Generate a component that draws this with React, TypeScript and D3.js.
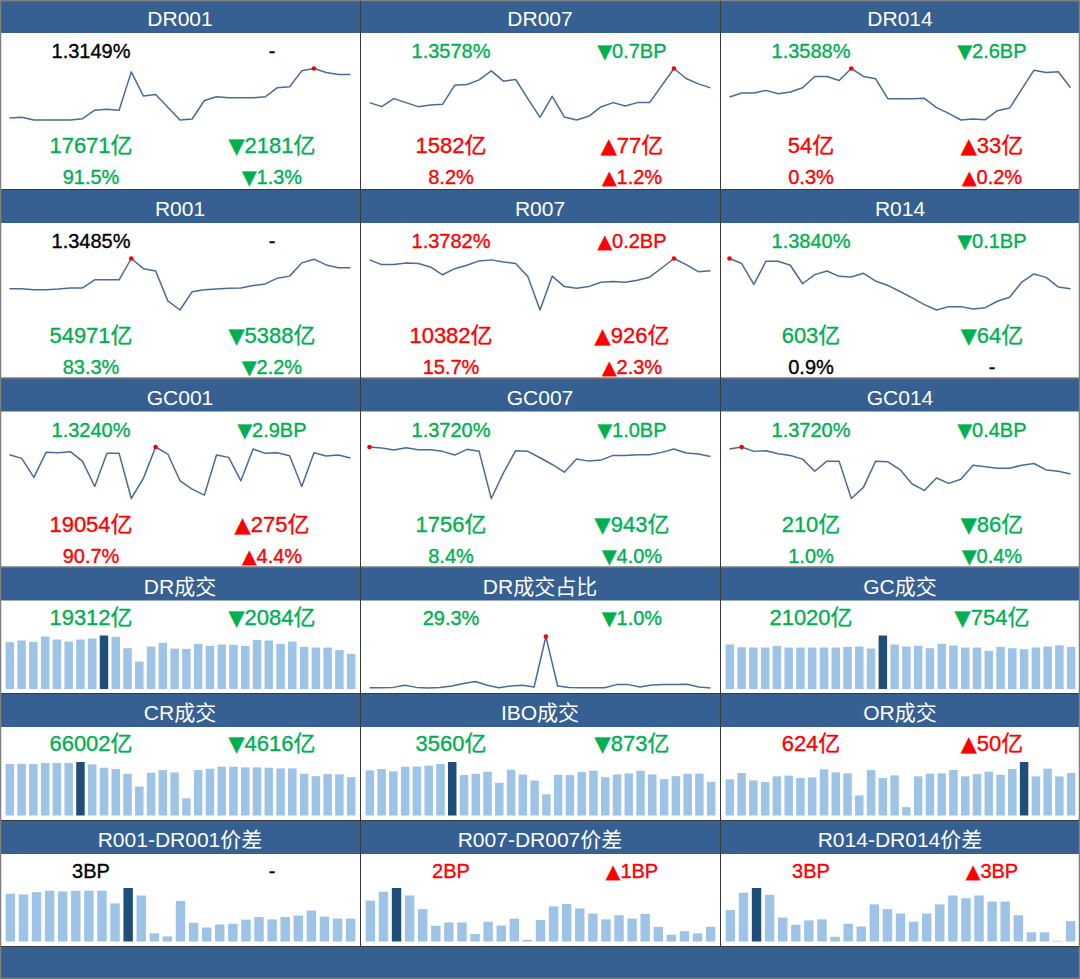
import React from "react";
import * as d3 from "d3";

// ---------- Rate panels (rows 1-3) ----------
const rateNames = ["DR001", "DR007", "DR014", "R001", "R007", "R014", "GC001", "GC007", "GC014"];

const dr001 = [1.2633, 1.2641, 1.2609, 1.2609, 1.2609, 1.2609, 1.2625, 1.2725, 1.2737, 1.2725, 1.3181, 1.2893, 1.2913, 1.2761, 1.2609, 1.2621, 1.2841, 1.2885, 1.2873, 1.2873, 1.2873, 1.2885, 1.2993, 1.3005, 1.3193, 1.3221, 1.3173, 1.3149, 1.3149];
const dr007 = [1.3321, 1.3251, 1.3391, 1.3321, 1.3251, 1.3281, 1.3292, 1.3625, 1.3636, 1.3718, 1.3875, 1.3695, 1.3724, 1.3391, 1.3065, 1.3432, 1.3071, 1.3018, 1.3082, 1.3246, 1.3321, 1.3263, 1.3321, 1.3321, 1.3619, 1.3916, 1.3741, 1.3648, 1.3578];
const dr014 = [1.3436, 1.3501, 1.3501, 1.3545, 1.349, 1.3518, 1.3588, 1.3772, 1.3772, 1.3707, 1.3902, 1.3772, 1.3734, 1.3409, 1.3409, 1.3409, 1.3415, 1.3263, 1.3171, 1.3062, 1.3079, 1.3068, 1.3214, 1.3257, 1.3566, 1.3875, 1.3837, 1.3848, 1.3588];
const r001 = [1.3237, 1.3237, 1.3225, 1.3225, 1.3233, 1.3245, 1.3245, 1.3341, 1.3341, 1.3341, 1.3593, 1.3473, 1.3445, 1.3093, 1.2985, 1.3201, 1.3225, 1.3233, 1.3241, 1.3245, 1.3273, 1.3293, 1.3361, 1.3385, 1.3541, 1.3585, 1.3517, 1.3485, 1.3485];
const r007 = [1.3995, 1.3902, 1.3902, 1.3935, 1.3922, 1.3855, 1.3702, 1.3822, 1.3889, 1.3975, 1.3995, 1.3955, 1.3922, 1.3669, 1.3009, 1.3675, 1.3469, 1.3435, 1.3469, 1.3555, 1.3569, 1.3555, 1.3595, 1.3655, 1.3835, 1.4022, 1.3902, 1.3762, 1.3782];
const r014 = [1.402, 1.399, 1.3866, 1.4004, 1.4004, 1.398, 1.387, 1.3924, 1.3946, 1.3914, 1.391, 1.3932, 1.3886, 1.386, 1.3824, 1.3786, 1.3746, 1.3714, 1.3734, 1.3734, 1.372, 1.3728, 1.3766, 1.379, 1.388, 1.3928, 1.3908, 1.385, 1.384];
const gc001 = [1.3562, 1.3208, 1.1372, 1.3787, 1.3755, 1.3852, 1.2918, 1.0503, 1.3691, 1.3691, 0.9344, 1.1308, 1.4303, 1.3626, 1.105, 1.0245, 0.9666, 1.353, 1.3304, 1.105, 1.4109, 1.3691, 1.3755, 1.3465, 1.0503, 1.3755, 1.3433, 1.353, 1.324];
const gc007 = [1.412, 1.4077, 1.3992, 1.4092, 1.4006, 1.4006, 1.3935, 1.3777, 1.402, 1.3935, 1.1932, 1.3019, 1.3963, 1.3935, 1.3663, 1.3377, 1.3048, 1.3606, 1.352, 1.3563, 1.3763, 1.3763, 1.3792, 1.3792, 1.3892, 1.4035, 1.3863, 1.382, 1.372];
const gc014 = [1.409, 1.412, 1.4055, 1.4065, 1.402, 1.3995, 1.394, 1.376, 1.391, 1.391, 1.3355, 1.352, 1.391, 1.39, 1.3785, 1.357, 1.3475, 1.366, 1.358, 1.364, 1.385, 1.3825, 1.3805, 1.3805, 1.385, 1.3875, 1.378, 1.376, 1.372];

const volumes = [17671, 1582, 54, 54971, 10382, 603, 19054, 1756, 210];
const volumeChanges = [-2181, 77, 33, -5388, 926, -64, 275, -943, -86];
const shares = [91.5, 8.2, 0.3, 83.3, 15.7, 0.9, 90.7, 8.4, 1.0];
const shareChanges = [-1.3, 1.2, 0.2, -2.2, 2.3, 0, 4.4, -4.0, -0.4];

// ---------- Volume / ratio panels (rows 4-5) ----------
const drVolume = [25750, 26670, 25930, 28870, 27220, 26110, 27220, 27770, 29430, 28690, 22440, 15080, 23360, 25380, 22250, 22070, 24830, 23720, 24460, 24280, 23720, 27030, 26670, 24830, 26110, 23170, 22800, 22800, 21396, 19312];
const drShare = [29.6, 29.6, 29.9, 31.9, 29.9, 29.3, 29.9, 31.3, 33.6, 35.6, 31.9, 29.6, 31.3, 31.9, 30.3, 79.6, 31.3, 29.9, 29.6, 29.6, 29.6, 32.6, 32.6, 30.3, 32.3, 32.6, 32.6, 32.9, 30.3, 29.3];
const gcVolume = [22190, 20850, 20690, 20690, 21520, 20690, 20690, 20690, 20690, 20690, 21020, 21190, 20190, 26690, 22190, 21190, 21520, 20350, 22520, 21690, 20690, 20690, 19020, 21020, 20350, 19850, 20690, 21190, 21774, 21020];
const crVolume = [88580, 89160, 88580, 90320, 90320, 90320, 92055, 88000, 82210, 79900, 71790, 49790, 73530, 78160, 74110, 29530, 78160, 80480, 83950, 83950, 82790, 82790, 82210, 81050, 81050, 71790, 67740, 71210, 70618, 66002];
const iboVolume = [4770, 4913, 4664, 5162, 5162, 5269, 5447, 5660, 4272, 4414, 4628, 3453, 4842, 4343, 3702, 2243, 4308, 4272, 4592, 4735, 4058, 4343, 4450, 4735, 4343, 3845, 4165, 4414, 4433, 3560];
const orVolume = [531, 624, 516, 491, 575, 585, 550, 560, 678, 634, 619, 295, 668, 550, 590, 123, 575, 614, 619, 668, 575, 609, 644, 599, 683, 786, 575, 688, 574, 624];

// ---------- Spread panels (row 6), BP ----------
const spread001 = [6.27, 6.18, 6.49, 6.67, 6.58, 6.67, 6.67, 6.67, 5.01, 7.03, 6.04, 1.07, 0.67, 5.33, 2.46, 1.84, 2.24, 2.33, 2.87, 3.22, 2.91, 3.22, 3.4, 4.07, 3.27, 3.0, 3.0];
const spread007 = [5.58, 6.79, 7.3, 6.28, 4.42, 2.14, 2.6, 2.6, 1.02, 2.7, 2.19, 3.12, 0.23, 2.93, 4.79, 5.12, 4.51, 3.81, 3.02, 3.58, 3.12, 3.77, 2.0, 0.93, 1.4, 1.12, 2.0];
const spread014 = [4.6, 7.15, 7.85, 6.85, 3.5, 2.45, 3.1, 3.25, 0.7, 2.6, 2.2, 5.45, 4.75, 4.1, 2.9, 4.1, 5.45, 6.75, 6.35, 6.75, 5.85, 5.85, 3.85, 1.35, 1.35, 0.1, 3.0];

const rateSeries = [dr001, dr007, dr014, r001, r007, r014, gc001, gc007, gc014];

// ---------- Layout / style ----------
const W = 1080;
const H = 979;
const colX = [0, 360, 720];
const rowTops = [0, 190, 378.5, 567.5, 694, 821, 947, 979];
const HEAD_H = 33;
const BLUE = "#376092";
const GREEN = "#00B050";
const RED = "#FF0000";
const BLACK = "#000000";
const LINE = "#4A6B95";
const BAR = "#9DC3E6";
const BAR_DARK = "#1F4E79";
const FONT = "'Liberation Sans', Arial, 'Noto Sans CJK SC', sans-serif";

const signColor = (v: number) => (v > 0 ? RED : v < 0 ? GREEN : BLACK);
const arrow = (v: number) => (v > 0 ? "▲" : "▼");

function Txt({ x, y, size, color, children }: any) {
  return (
    <text
      x={x}
      y={y}
      textAnchor="middle"
      fontSize={size}
      fill={color}
      stroke={color}
      strokeWidth={0.35}
      fontFamily={FONT}
    >
      {children}
    </text>
  );
}

function ChangeTxt({ x, y, size, v, text }: any) {
  if (v === 0) return <Txt x={x} y={y} size={size} color={BLACK}>-</Txt>;
  return (
    <Txt x={x} y={y} size={size} color={signColor(v)}>
      <tspan fontFamily="'DejaVu Sans', sans-serif" fontSize={size * 0.95}>
        {arrow(v)}
      </tspan>
      {text}
    </Txt>
  );
}

function Spark({ x0, top, data }: { x0: number; top: number; data: number[] }) {
  const x = d3.scaleLinear().domain([0, data.length - 1]).range([x0 + 9.5, x0 + 350.5]);
  const ext = d3.extent(data) as [number, number];
  const y = d3.scaleLinear().domain(ext).range([top + 120, top + 68.5]);
  const line = d3
    .line<number>()
    .x((_, i) => x(i))
    .y((d) => y(d));
  const iMax = d3.maxIndex(data);
  return (
    <g>
      <path d={line(data) || ""} fill="none" stroke={LINE} strokeWidth={1.5} strokeLinejoin="round" />
      <circle cx={x(iMax)} cy={y(data[iMax])} r={2.3} fill={RED} />
    </g>
  );
}

function Bars({ x0, top, data }: { x0: number; top: number; data: number[] }) {
  const x = d3
    .scaleBand<number>()
    .domain(d3.range(data.length))
    .range([x0 + 5, x0 + 356])
    .paddingInner(0.28)
    .paddingOuter(0.05);
  const y = d3
    .scaleLinear()
    .domain([0, d3.max(data) as number])
    .range([top + 121.5, top + 68]);
  const iMax = d3.maxIndex(data);
  return (
    <g>
      {data.map((d, i) => (
        <rect
          key={i}
          x={x(i)}
          y={y(d)}
          width={x.bandwidth()}
          height={y(0) - y(d)}
          fill={i === iMax ? BAR_DARK : BAR}
        />
      ))}
    </g>
  );
}

function Header({ x0, top, title }: any) {
  return (
    <g>
      <rect x={x0} y={top} width={360} height={HEAD_H} fill={BLUE} />
      <text x={x0 + 180} y={top + 26} textAnchor="middle" fontSize={21} fill="#FFFFFF" fontFamily={FONT}>
        {title}
      </text>
    </g>
  );
}

export default function App() {
  const LX = 91;
  const RX = 272;

  const ratePanels = rateNames.map((name, i) => {
    const col = i % 3;
    const row = Math.floor(i / 3);
    const x0 = colX[col];
    const top = rowTops[row];
    const s = rateSeries[i];
    const last = s[s.length - 1];
    const prev = s[s.length - 2];
    const bp = Math.round((last - prev) * 1000) / 10;
    return (
      <g key={name}>
        <Header x0={x0} top={top} title={name} />
        <Txt x={x0 + LX} y={top + 58} size={20} color={signColor(bp)}>
          {last.toFixed(4) + "%"}
        </Txt>
        <ChangeTxt x={x0 + RX} y={top + 58} size={20} v={bp} text={Math.abs(bp).toFixed(1) + "BP"} />
        <Spark x0={x0} top={top} data={s} />
        <Txt x={x0 + LX} y={top + 153} size={22} color={signColor(volumeChanges[i])}>
          {volumes[i] + "亿"}
        </Txt>
        <ChangeTxt x={x0 + RX} y={top + 153} size={22} v={volumeChanges[i]} text={Math.abs(volumeChanges[i]) + "亿"} />
        <Txt x={x0 + LX} y={top + 184} size={20} color={signColor(shareChanges[i])}>
          {shares[i].toFixed(1) + "%"}
        </Txt>
        <ChangeTxt x={x0 + RX} y={top + 184} size={20} v={shareChanges[i]} text={Math.abs(shareChanges[i]).toFixed(1) + "%"} />
      </g>
    );
  });

  const volPanels = [
    { title: "DR成交", data: drVolume, col: 0, row: 3 },
    { title: "GC成交", data: gcVolume, col: 2, row: 3 },
    { title: "CR成交", data: crVolume, col: 0, row: 4 },
    { title: "IBO成交", data: iboVolume, col: 1, row: 4 },
    { title: "OR成交", data: orVolume, col: 2, row: 4 },
  ].map((p) => {
    const x0 = colX[p.col];
    const top = rowTops[p.row];
    const last = p.data[p.data.length - 1];
    const chg = last - p.data[p.data.length - 2];
    return (
      <g key={p.title}>
        <Header x0={x0} top={top} title={p.title} />
        <Txt x={x0 + LX} y={top + 57} size={22} color={signColor(chg)}>
          {last + "亿"}
        </Txt>
        <ChangeTxt x={x0 + RX} y={top + 57} size={22} v={chg} text={Math.abs(chg) + "亿"} />
        <Bars x0={x0} top={top} data={p.data} />
      </g>
    );
  });

  // DR share panel
  const shareTop = rowTops[3];
  const shLast = drShare[drShare.length - 1];
  const shChg = Math.round((shLast - drShare[drShare.length - 2]) * 10) / 10;
  const sharePanel = (
    <g>
      <Header x0={colX[1]} top={shareTop} title="DR成交占比" />
      <Txt x={colX[1] + LX} y={shareTop + 57} size={20} color={signColor(shChg)}>
        {shLast.toFixed(1) + "%"}
      </Txt>
      <ChangeTxt x={colX[1] + RX} y={shareTop + 57} size={20} v={shChg} text={Math.abs(shChg).toFixed(1) + "%"} />
      <Spark x0={colX[1]} top={shareTop + 0.5} data={drShare} />
    </g>
  );

  const spreadPanels = [
    { title: "R001-DR001价差", data: spread001 },
    { title: "R007-DR007价差", data: spread007 },
    { title: "R014-DR014价差", data: spread014 },
  ].map((p, i) => {
    const x0 = colX[i];
    const top = rowTops[5];
    const last = Math.round(p.data[p.data.length - 1]);
    const chg = Math.round(p.data[p.data.length - 1] - p.data[p.data.length - 2]);
    return (
      <g key={p.title}>
        <Header x0={x0} top={top} title={p.title} />
        <Txt x={x0 + LX} y={top + 57} size={20} color={signColor(chg)}>
          {last + "BP"}
        </Txt>
        <ChangeTxt x={x0 + RX} y={top + 57} size={20} v={chg} text={Math.abs(chg) + "BP"} />
        <Bars x0={x0} top={top - 1} data={p.data} />
      </g>
    );
  });

  return (
    <svg
      width={W}
      height={H}
      viewBox={`0 0 ${W} ${H}`}
      style={{ position: "absolute", left: 0, top: 0, display: "block", background: "#FFFFFF" }}
    >
      <rect x={0} y={0} width={W} height={H} fill="#FFFFFF" />
      {ratePanels}
      {sharePanel}
      {volPanels}
      {spreadPanels}
      {/* footer */}
      <rect x={0} y={rowTops[6]} width={W} height={rowTops[7] - rowTops[6]} fill={BLUE} />
      {/* grid lines */}
      {rowTops.slice(1, 7).map((y, i) => (
        <line key={"h" + i} x1={0} x2={W} y1={y - 0.5} y2={y - 0.5} stroke="#3A3A3A" strokeWidth={1} />
      ))}
      {[360, 720].map((x) => (
        <line key={"v" + x} x1={x + 0.5} x2={x + 0.5} y1={0} y2={rowTops[6]} stroke="#3A3A3A" strokeWidth={1} />
      ))}
      <rect x={0.5} y={0.5} width={W - 1} height={H - 1} fill="none" stroke="#7F7F7F" strokeWidth={1.5} />
    </svg>
  );
}
